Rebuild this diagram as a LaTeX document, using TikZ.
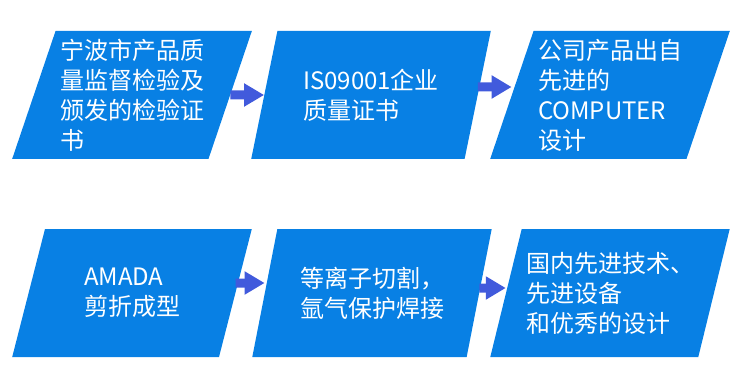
\documentclass[tikz,border=0pt]{standalone}
\usepackage{fontspec}
\setmainfont{Noto Sans CJK SC}
\usepackage{tikz}
\usetikzlibrary{shapes.geometric,arrows.meta}
\usepackage{xcolor}
\definecolor{boxblue}{RGB}{8,128,228}
\definecolor{arrowblue}{RGB}{65,90,220}

\begin{document}
\begin{tikzpicture}[
  x=1pt, y=-1pt,
  every node/.style={font=\fontsize{24pt}{30pt}\selectfont},
  stage/.style={trapezium, trapezium left angle=70, trapezium right angle=110,
    trapezium stretches=true, fill=boxblue, text=white, align=left,
    inner sep=0pt, minimum width=240pt, minimum height=128pt},
  arr/.style={arrowblue, line width=9pt,
    -{Triangle[length=20pt,width=22pt]}},
]
\useasboundingbox (0,0) rectangle (750,385);

% ── ROW 0 ── certificates and design  (y=95)
\node[stage] at (132, 95) (cert)    {宁波市产品质\\量监督检验及\\颁发的检验证\\书};
\node[stage] at (371, 95) (iso)     {IS09001企业\\质量证书};
\node[stage] at (610, 95) (design)  {公司产品出自\\先进的\\COMPUTER\\设计};

% ── ROW 1 ── processing  (y=293)
\node[stage] at (132,293) (amada)   {AMADA\\剪折成型};
\node[stage] at (372,293) (weld)    {等离子切割，\\氩气保护焊接};
\node[stage] at (610,293) (tech)    {国内先进技术、\\先进设备\\和优秀的设计};

%% ══════════════════ ARROWS ══════════════════

% Row 0
\draw[arr] (cert.east)                -- (iso.west);
\draw[arr] ([yshift=8pt]iso.east)     -- ([yshift=8pt]design.west);

% Row 1
\draw[arr] ([yshift=10pt]amada.east)  -- ([yshift=10pt]weld.west);
\draw[arr] ([yshift=5pt]weld.east)    -- ([yshift=5pt]tech.west);

\end{tikzpicture}
\end{document}
